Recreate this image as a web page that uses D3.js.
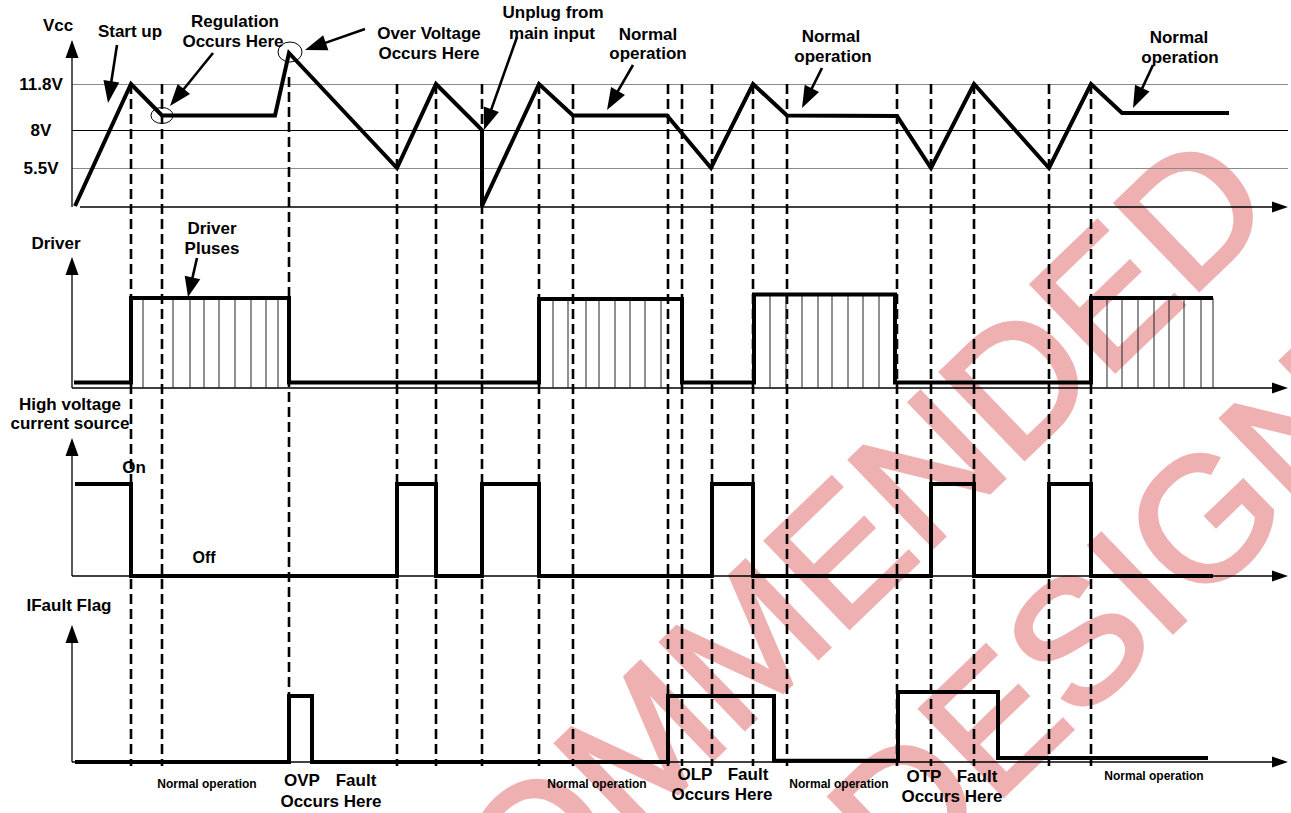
<!DOCTYPE html>
<html>
<head>
<meta charset="utf-8">
<script src="https://cdn.jsdelivr.net/npm/d3@7"></script>
<style>
  body { margin: 0; background: #fff; }
  svg text { font-family: "Liberation Sans", Arial, sans-serif; font-weight: bold; fill: #000; }
</style>
</head>
<body>
<div id="graphic_area"></div>
<script>
// time is in arbitrary units, volts for Vcc, 0..1 for logic levels
const vccLevels = [11.8, 8, 5.5];
const vccTickLabels = ["11.8V", "8V", "5.5V"];

const vccT = [3, 59, 90, 203, 217, 325, 364, 410, 410, 467, 501, 595, 639, 681, 715, 825, 859, 902, 977, 1019, 1050, 1157];
const vccV = [0, 11.8, 9.2, 9.2, 14, 5.5, 11.8, 8, 0, 11.8, 9.2, 9.2, 5.5, 11.8, 9.2, 9.15, 5.5, 11.8, 5.5, 11.8, 9.4, 9.4];

// event boundaries (dashed verticals)
const edgeT = [59, 90, 217, 325, 364, 410, 467, 501, 596, 610, 640, 681, 715, 825, 859, 902, 977, 1019];

const drvT = [2, 59, 217, 467, 610, 682, 823, 1019, 1141];
const drvV = [0.06, 1, 0.06, 0.99, 0.06, 1.04, 0.06, 1, 1];
const pulseT = [71, 101, 118, 132, 147, 163, 179, 194, 206,
                481, 496, 514, 527, 543, 558, 573, 589,
                698, 714, 730, 746, 760, 776, 791, 807,
                1035, 1050, 1066, 1082, 1097, 1112, 1129, 1141];

const hvT = [3, 59, 325, 364, 410, 467, 640, 681, 859, 902, 977, 1019, 1141];
const hvV = [1, 0, 1, 0, 1, 0, 1, 0, 1, 0, 1, 0, 0];

const fltT = [3, 217, 240, 596, 702, 826, 926, 1136];
const fltV = [0, 1, 0, 1, 0.02, 1.06, 0.06, 0.06];

const watermarkLines = ["NOT RECOMMENDED", "FOR NEW DESIGNS"];

(function() {

  let width = 1291;
  let height = 813;

  let svg = d3.select("#graphic_area").append("svg")
    .attr("width", width)
    .attr("height", height);

  let x = d3.scaleLinear().domain([0, 1216]).range([72, 1288]);
  let yVcc = d3.scaleLinear().domain([0, 5.5, 8, 11.8, 14]).range([206, 168, 130, 84, 53]);
  let yDrv = d3.scaleLinear().domain([0, 1]).range([388, 298]);
  let yHv = d3.scaleLinear().domain([0, 1]).range([576, 484]);
  let yFlt = d3.scaleLinear().domain([0, 1]).range([762, 696]);

  // watermark sits underneath everything
  let wm = svg.append("g")
    .attr("transform", "translate(1280,212) rotate(-44)");
  wm.selectAll("text").data(watermarkLines).enter().append("text")
    .attr("x", (d, i) => i * 43)
    .attr("y", (d, i) => i * 228)
    .attr("text-anchor", "end")
    .style("font-weight", "normal")
    .style("font-size", "175px")
    .style("fill", "#eeb0b0")
    .style("stroke", "#eeb0b0")
    .style("stroke-width", 4)
    .text(d => d);

  function head(g, x1, y1, x2, y2, len, half) {
    let a = Math.atan2(y2 - y1, x2 - x1);
    let bx = x2 - len * Math.cos(a), by = y2 - len * Math.sin(a);
    let px = -Math.sin(a) * half, py = Math.cos(a) * half;
    g.append("polygon")
      .attr("points", [[x2, y2], [bx + px, by + py], [bx - px, by - py]].map(p => p.join(",")).join(" "))
      .attr("fill", "#000");
  }

  function arrow(x1, y1, x2, y2, w, len, half) {
    let a = Math.atan2(y2 - y1, x2 - x1);
    svg.append("line")
      .attr("x1", x1).attr("y1", y1)
      .attr("x2", x2 - (len - 2) * Math.cos(a)).attr("y2", y2 - (len - 2) * Math.sin(a))
      .attr("stroke", "#000").attr("stroke-width", w);
    head(svg, x1, y1, x2, y2, len, half);
  }

  // Vcc grid + tick labels
  let grid = svg.append("g")
    .attr("transform", "translate(" + x(0) + ",0)")
    .call(d3.axisLeft(yVcc).tickValues(vccLevels)
      .tickFormat((d, i) => vccTickLabels[i])
      .tickSizeInner(-(x.range()[1] - x.range()[0]))
      .tickSizeOuter(0));
  grid.select(".domain").remove();
  grid.selectAll(".tick line")
    .attr("stroke", d => d == 8 ? "#000" : "#8a8a8a")
    .attr("stroke-width", 1.2);
  grid.selectAll(".tick text")
    .attr("x", -31)
    .attr("text-anchor", "middle")
    .style("font-size", "17px");
  grid.attr("font-family", null).attr("font-size", null);

  // panel axes
  let panels = [
    {y: yVcc, top: 40, x0: 80},
    {y: yDrv, top: 257, x0: 72},
    {y: yHv, top: 438, x0: 72},
    {y: yFlt, top: 625, x0: 72}
  ];
  panels.forEach(function(p) {
    let base = p.y.range()[0] + (p.y === yVcc ? 1 : 0);
    let ax = svg.append("g")
      .attr("transform", "translate(0," + base + ")")
      .call(d3.axisBottom(x).ticks(0).tickSizeOuter(0));
    ax.select(".domain")
      .attr("d", "M" + p.x0 + ",0H" + (x.range()[1] - 12))
      .attr("stroke", "#000").attr("stroke-width", 1.3);
    head(svg, x.range()[0], base, x.range()[1], base, 16, 5.5);
    svg.append("line")
      .attr("x1", x(0)).attr("x2", x(0))
      .attr("y1", base).attr("y2", p.top + 14)
      .attr("stroke", "#000").attr("stroke-width", 1.3);
    head(svg, x(0), base, x(0), p.top, 18, 6.5);
  });

  // dashed event lines
  svg.selectAll(".edge").data(edgeT).enter().append("line")
    .attr("class", "edge")
    .attr("x1", d => x(d)).attr("x2", d => x(d))
    .attr("y1", d => d == 217 ? 77 : 84)
    .attr("y2", 766)
    .attr("stroke", "#000")
    .attr("stroke-width", 2.6)
    .attr("stroke-dasharray", "10,5");

  // Vcc trace
  let vccData = vccT.map((t, i) => ({t: t, v: vccV[i]}));
  svg.append("path")
    .datum(vccData)
    .attr("d", d3.line().x(d => x(d.t)).y(d => yVcc(d.v)))
    .attr("fill", "none").attr("stroke", "#000").attr("stroke-width", 4)
    .attr("stroke-linejoin", "miter");

  function stepAt(ts, vs, t) {
    let v = vs[0];
    ts.forEach((tt, i) => { if (tt <= t) v = vs[i]; });
    return v;
  }

  // driver pulses
  svg.selectAll(".pulse").data(pulseT).enter().append("line")
    .attr("class", "pulse")
    .attr("x1", d => x(d)).attr("x2", d => x(d))
    .attr("y1", d => yDrv(stepAt(drvT, drvV, d)))
    .attr("y2", yDrv(0))
    .attr("stroke", "#222").attr("stroke-width", 1);

  function stepTrace(ts, vs, y) {
    let data = ts.map((t, i) => ({t: t, v: vs[i]}));
    svg.append("path")
      .datum(data)
      .attr("d", d3.line().curve(d3.curveStepAfter).x(d => x(d.t)).y(d => y(d.v)))
      .attr("fill", "none").attr("stroke", "#000").attr("stroke-width", 4)
      .attr("stroke-linejoin", "miter");
  }
  stepTrace(drvT, drvV, yDrv);
  stepTrace(hvT, hvV, yHv);
  stepTrace(fltT, fltV, yFlt);

  // circles marking regulation / over voltage
  svg.append("ellipse").attr("cx", 162).attr("cy", 115.5).attr("rx", 11).attr("ry", 8)
    .attr("fill", "none").attr("stroke", "#000").attr("stroke-width", 1);
  svg.append("ellipse").attr("cx", 290).attr("cy", 52).attr("rx", 12).attr("ry", 10)
    .attr("fill", "none").attr("stroke", "#000").attr("stroke-width", 1);

  // callout arrows
  arrow(117, 45, 108, 103, 2.6, 22, 8);
  arrow(213, 53, 170, 106, 2.6, 22, 8);
  arrow(365, 29, 305, 50, 2.6, 22, 8);
  arrow(517, 37, 484, 130, 2.6, 22, 8);
  arrow(633, 65, 607, 110, 2.6, 22, 8);
  arrow(822, 68, 802, 108, 2.6, 22, 8);
  arrow(1153, 65, 1133, 108, 2.6, 22, 8);
  arrow(197, 258, 188, 297, 2.6, 20, 8);

  function label(tx, ty, s, size) {
    svg.append("text")
      .attr("x", tx).attr("y", ty)
      .attr("text-anchor", "middle")
      .style("font-size", (size || 17) + "px")
      .text(s);
  }

  label(58, 31, "Vcc");
  label(130, 37, "Start up");
  label(235, 27, "Regulation");
  label(233, 47, "Occurs Here");
  label(429, 39, "Over Voltage");
  label(429, 59, "Occurs Here");
  label(553, 18, "Unplug from");
  label(552, 39, "main input");
  label(648, 40, "Normal");
  label(648, 59, "operation");
  label(831, 42, "Normal");
  label(833, 62, "operation");
  label(1179, 43, "Normal");
  label(1180, 63, "operation");

  label(56, 249, "Driver");
  label(212, 234, "Driver");
  label(212, 254, "Pluses");
  label(70, 410, "High voltage");
  label(70, 429, "current source");
  label(134, 473, "On");
  label(204, 563, "Off", 16);
  label(69, 611, "IFault Flag");

  label(207, 788, "Normal operation", 12);
  label(597, 788, "Normal operation", 12);
  label(839, 788, "Normal operation", 12);
  label(1154, 780, "Normal operation", 12);

  label(302, 786, "OVP");
  label(356, 786, "Fault");
  label(331, 807, "Occurs Here");
  label(695, 780, "OLP");
  label(748, 780, "Fault");
  label(722, 800, "Occurs Here");
  label(924, 782, "OTP");
  label(977, 782, "Fault");
  label(952, 802, "Occurs Here");
})();
</script>
</body>
</html>
